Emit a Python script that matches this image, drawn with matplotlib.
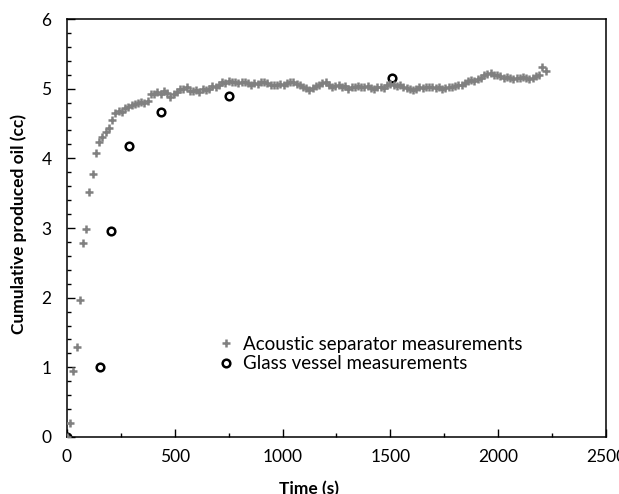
import matplotlib
matplotlib.use("Agg")
import matplotlib.pyplot as plt
from matplotlib.ticker import MultipleLocator

plt.rcParams['font.family'] = ['Lato', 'DejaVu Sans']

# Acoustic separator measurements
acoustic_time = [
    0, 15, 30, 45, 60, 75, 90, 105, 120, 135, 150, 165, 180, 195, 210, 225, 240, 255, 270, 285,
    300, 315, 330, 345, 360, 375, 390, 405, 420, 435, 450, 465, 480, 495, 510, 525, 540, 555, 570, 585,
    600, 615, 630, 645, 660, 675, 690, 705, 720, 735, 750, 765, 780, 795, 810, 825, 840, 855, 870, 885,
    900, 915, 930, 945, 960, 975, 990, 1005, 1020, 1035, 1050, 1065, 1080, 1095, 1110, 1125, 1140, 1155, 1170, 1185,
    1200, 1215, 1230, 1245, 1260, 1275, 1290, 1305, 1320, 1335, 1350, 1365, 1380, 1395, 1410, 1425, 1440, 1455, 1470, 1485,
    1500, 1515, 1530, 1545, 1560, 1575, 1590, 1605, 1620, 1635, 1650, 1665, 1680, 1695, 1710, 1725, 1740, 1755, 1770, 1785,
    1800, 1815, 1830, 1845, 1860, 1875, 1890, 1905, 1920, 1935, 1950, 1965, 1980, 1995, 2010, 2025, 2040, 2055, 2070, 2085,
    2100, 2115, 2130, 2145, 2160, 2175, 2190, 2205, 2220,
]
acoustic_oil = [
    0.00, 0.20, 0.95, 1.29, 1.97, 2.79, 2.98, 3.51, 3.77, 4.07, 4.24, 4.31, 4.38, 4.44, 4.55, 4.65, 4.68, 4.66, 4.72, 4.74,
    4.77, 4.78, 4.79, 4.81, 4.80, 4.83, 4.93, 4.92, 4.95, 4.93, 4.97, 4.94, 4.88, 4.93, 4.95, 4.99, 5.00, 5.03, 4.96, 4.97,
    4.98, 4.95, 5.00, 4.98, 4.99, 5.04, 5.02, 5.06, 5.10, 5.08, 5.11, 5.09, 5.10, 5.08, 5.10, 5.09, 5.08, 5.06, 5.08, 5.07,
    5.09, 5.10, 5.08, 5.06, 5.05, 5.05, 5.07, 5.06, 5.08, 5.09, 5.10, 5.07, 5.05, 5.03, 5.01, 4.98, 5.01, 5.04, 5.06, 5.08,
    5.10, 5.06, 5.03, 5.04, 5.05, 5.03, 5.04, 5.00, 5.02, 5.03, 5.04, 5.02, 5.03, 5.04, 5.01, 4.99, 5.02, 5.03, 5.01, 5.05,
    5.07, 5.05, 5.04, 5.06, 5.03, 5.01, 5.00, 4.98, 5.00, 5.02, 5.01, 5.03, 5.02, 5.03, 5.01, 5.02, 5.00, 5.01, 5.03, 5.02,
    5.04, 5.05, 5.06, 5.08, 5.11, 5.12, 5.11, 5.14, 5.16, 5.19, 5.21, 5.22, 5.20, 5.19, 5.18, 5.16, 5.17, 5.15, 5.14, 5.16,
    5.15, 5.17, 5.15, 5.14, 5.16, 5.18, 5.20, 5.31, 5.26,
]

# Glass vessel measurements
glass_time = [0, 156, 207, 288, 436, 753, 1508]
glass_oil = [0.00, 1.01, 2.95, 4.18, 4.67, 4.90, 5.16]

fig = plt.figure(figsize=(6.19, 4.94), dpi=100)
ax = fig.add_axes([0.108, 0.1154, 0.871, 0.8461])

ax.plot(glass_time, glass_oil, linestyle='none', marker='o', markersize=5.5,
        markerfacecolor='none', markeredgecolor='black', markeredgewidth=1.8,
        label='Glass vessel measurements', zorder=2)
ax.plot(acoustic_time, acoustic_oil, linestyle='none', marker='+', markersize=6,
        color='#808080', markeredgewidth=1.8,
        label='Acoustic separator measurements', zorder=3)

ax.set_xlim(0, 2500)
ax.set_ylim(0, 6)
ax.xaxis.set_major_locator(MultipleLocator(500))
ax.xaxis.set_minor_locator(MultipleLocator(250))
ax.yaxis.set_major_locator(MultipleLocator(1))
ax.yaxis.set_minor_locator(MultipleLocator(0.2))
ax.tick_params(which='both', direction='in', top=False, right=False, labelsize=12.5)
ax.tick_params(axis='x', which='both', pad=9)
ax.tick_params(axis='y', which='both', pad=11)
ax.tick_params(which='major', length=6, width=1)
ax.tick_params(which='minor', length=3, width=1)
for s in ax.spines.values():
    s.set_linewidth(1.1)

ax.set_xlabel('Time (s)', fontsize=12.5, fontweight='bold')
ax.set_ylabel('Cumulative produced oil (cc)', fontsize=12.5, fontweight='bold')
ax.xaxis.set_label_coords(0.45, -0.105)
ax.yaxis.set_label_coords(-0.073, 0.51)

handles, labels = ax.get_legend_handles_labels()
ax.legend(handles[::-1], labels[::-1], loc='lower left', bbox_to_anchor=(0.243, 0.114),
          frameon=False, fontsize=13.5, handletextpad=0.3, labelspacing=0.15,
          handlelength=1.2)

fig.savefig('out.png', dpi=100)
